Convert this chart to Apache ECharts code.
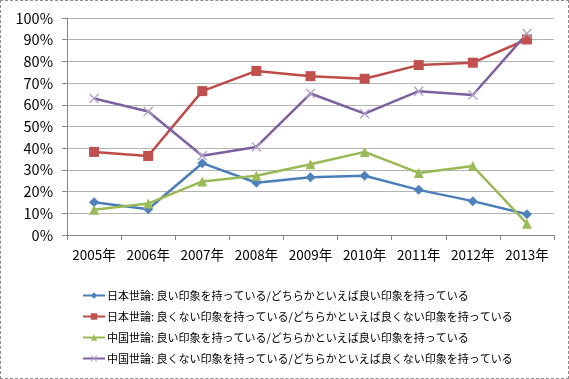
<!DOCTYPE html>
<html><head><meta charset="utf-8">
<script src="https://cdn.jsdelivr.net/npm/echarts@6/dist/echarts.min.js"></script>
<style>html,body{margin:0;padding:0;background:#fff}#c{width:569px;height:379px;box-sizing:border-box;border:1px dashed #8c8c8c}</style>
</head><body><div id="c"></div>
<script>
const categories = ['2005年','2006年','2007年','2008年','2009年','2010年','2011年','2012年','2013年'];
const seriesNames = [
  '日本世論: 良い印象を持っている/どちらかといえば良い印象を持っている',
  '日本世論: 良くない印象を持っている/どちらかといえば良くない印象を持っている',
  '中国世論: 良い印象を持っている/どちらかといえば良い印象を持っている',
  '中国世論: 良くない印象を持っている/どちらかといえば良くない印象を持っている'
];
const japanGood = [15.1, 11.9, 33.1, 24.1, 26.6, 27.3, 20.8, 15.6, 9.6];
const japanBad  = [38.3, 36.4, 66.3, 75.6, 73.2, 72.0, 78.3, 79.4, 90.1];
const chinaGood = [11.6, 14.5, 24.7, 27.3, 32.6, 38.3, 28.6, 31.8, 5.2];
const chinaBad  = [62.9, 56.9, 36.5, 40.6, 65.2, 55.9, 66.3, 64.5, 92.8];
const yTicks = [0,10,20,30,40,50,60,70,80,90,100];

const font = "'Noto Sans CJK JP', 'DejaVu Sans', sans-serif";
const xSym = 'path://M0,1L1,0L5,4L9,0L10,1L6,5L10,9L9,10L5,6L1,10L0,9L4,5Z';
const chart = echarts.init(document.getElementById('c'));
function mk(name, data, color, lineColor, symbol, size){
  return {name, type:'line', data: data.map(v=>v/100), symbol, symbolSize:size,
    lineStyle:{color:lineColor, width:2.5}, itemStyle:{color:color}, emphasis:{disabled:true}};
}
chart.setOption({
  animation:false,
  textStyle:{fontFamily:font},
  grid:{left:66, right:14, top:17, bottom:143, containLabel:false},
  xAxis:{type:'category', data:categories, boundaryGap:true,
    axisLine:{lineStyle:{color:'#868686'}},
    axisTick:{show:true, length:5, lineStyle:{color:'#868686'}},
    axisLabel:{color:'#000', fontSize:13.5, margin:13, interval:0, hideOverlap:false, fontFamily:font}},
  yAxis:{type:'value', min:0, max:1, interval:0.1,
    axisLine:{show:true, lineStyle:{color:'#868686'}},
    axisTick:{show:true, length:5, lineStyle:{color:'#868686'}},
    splitLine:{lineStyle:{color:'#b3b3b3', width:1}},
    axisLabel:{color:'#000', fontSize:14.5, margin:14, fontFamily:font,
      formatter:v=>Math.round(v*100)+'%'}},
  legend:{orient:'vertical', left:76, top:284, itemWidth:22, itemHeight:8, itemGap:10,
    textStyle:{fontSize:11, color:'#000', fontFamily:font, padding:[0,0,0,-3]},
    data:seriesNames},
  series:[
    mk(seriesNames[0], japanGood, '#4F81BD', '#4A7EBB', 'diamond', 10),
    mk(seriesNames[1], japanBad, '#C0504D', '#BE4B48', 'rect', 10),
    mk(seriesNames[2], chinaGood, '#9BBB59', '#98B954', 'triangle', 10),
    mk(seriesNames[3], chinaBad, '#B3A2C7', '#7D60A0', xSym, 10)
  ]
});
</script></body></html>
